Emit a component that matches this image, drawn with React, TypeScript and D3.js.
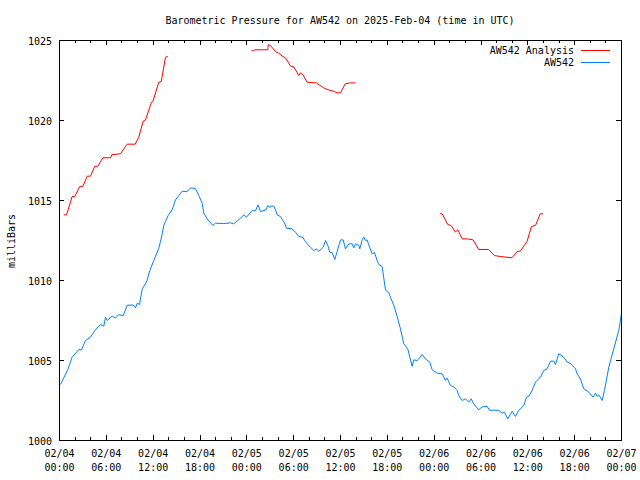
import React from "react";
import * as d3 from "d3";

const TITLE = "Barometric Pressure for AW542 on 2025-Feb-04 (time in UTC)";
const Y_LABEL = "milliBars";
const START = Date.UTC(2025, 1, 4, 0, 0);
const SPAN_HOURS = 72;
const Y_TICKS = [1000, 1005, 1010, 1015, 1020, 1025];

const seriesNames = ["AW542 Analysis", "AW542"];

// Analysis segments (hours since 2025-02-04 00:00 UTC, mbar)
const analysisA_hours = [0.55, 0.9, 1.62, 1.95, 2.6, 2.99, 3.55, 3.97, 4.52, 4.9, 5.55, 6.57, 6.7, 7.8, 8.67, 9.7, 10.16, 10.72, 11.02, 11.78, 11.95, 12.72, 13.03, 13.58, 13.87];
const analysisA_values = [1014.1, 1014.1, 1015.25, 1015.25, 1015.88, 1015.88, 1016.52, 1016.52, 1017.14, 1017.14, 1017.67, 1017.67, 1017.86, 1017.92, 1018.52, 1018.52, 1018.96, 1019.96, 1020.04, 1021.14, 1021.17, 1022.39, 1022.42, 1023.96, 1024.0];

const analysisB_hours = [24.6, 24.9, 25.0, 26.7, 26.73, 27.03, 27.67, 28.1, 28.53, 28.95, 29.6, 30.02, 30.66, 30.87, 31.2, 31.73, 32.9, 33.86, 34.29, 35.1, 35.56, 36.0, 36.6, 37.3, 37.9];
const analysisB_values = [1024.36, 1024.36, 1024.42, 1024.42, 1024.73, 1024.69, 1024.31, 1024.2, 1024.02, 1023.92, 1023.4, 1023.35, 1022.81, 1022.98, 1022.85, 1022.39, 1022.35, 1022.04, 1021.94, 1021.83, 1021.73, 1021.73, 1022.29, 1022.35, 1022.35];

const analysisC_hours = [48.72, 49.03, 49.74, 50.17, 50.73, 51.02, 51.6, 52.24, 52.99, 53.7, 54.98, 55.7, 56.48, 57.97, 58.6, 59.05, 59.9, 60.45, 60.99, 61.6, 61.96];
const analysisC_values = [1014.17, 1014.17, 1013.5, 1013.44, 1013.02, 1013.17, 1012.6, 1012.6, 1012.54, 1011.94, 1011.94, 1011.56, 1011.5, 1011.42, 1011.8, 1011.85, 1012.44, 1013.37, 1013.45, 1014.17, 1014.17];

// Observed station pressure
const obs_hours = [0.13, 1.07, 1.62, 2.5, 2.8, 3.33, 3.97, 4.6, 5.25, 5.68, 5.9, 6.1, 6.75, 7.17, 7.6, 8.15, 8.67, 9.44, 9.74, 9.95, 10.25, 10.6, 11.15, 11.57, 12.08, 12.72, 13.07, 13.36, 13.92, 14.43, 14.86, 15.28, 15.72, 16.35, 16.78, 17.4, 17.85, 18.28, 18.49, 18.92, 19.64, 19.98, 21.0, 21.9, 22.3, 22.97, 23.6, 23.96, 24.68, 25.1, 25.45, 25.75, 26.4, 26.7, 26.95, 27.03, 27.45, 27.67, 27.9, 28.3, 28.82, 29.08, 29.8, 30.23, 30.66, 31.2, 31.39, 31.73, 32.15, 32.58, 32.93, 33.2, 33.78, 34.08, 34.38, 34.62, 34.93, 35.27, 35.58, 35.78, 36.0, 36.34, 36.64, 37.06, 37.49, 37.7, 37.92, 38.35, 38.47, 38.78, 38.99, 39.2, 39.41, 39.62, 40.06, 40.35, 40.7, 40.9, 41.33, 41.76, 42.19, 42.83, 43.26, 43.68, 44.11, 44.62, 44.88, 45.18, 45.39, 45.82, 46.03, 46.46, 46.88, 47.44, 47.74, 48.38, 49.0, 49.45, 49.66, 50.09, 50.52, 50.94, 51.15, 51.58, 52.0, 52.44, 52.75, 53.07, 53.71, 54.14, 54.79, 55.12, 55.63, 56.28, 56.71, 57.0, 57.43, 57.99, 58.42, 58.84, 59.48, 59.83, 60.13, 60.55, 60.98, 61.62, 62.04, 62.47, 62.9, 63.33, 63.54, 63.96, 64.6, 65.04, 65.55, 66.1, 66.32, 66.74, 67.17, 67.81, 68.37, 68.67, 68.88, 69.1, 69.52, 69.82, 70.37, 71.01, 71.65, 72.0];
const obs_values = [1003.5, 1004.44, 1005.21, 1005.69, 1005.65, 1006.25, 1006.46, 1006.92, 1007.25, 1007.15, 1007.71, 1007.5, 1007.77, 1007.65, 1007.87, 1007.8, 1008.46, 1008.46, 1008.29, 1008.58, 1008.5, 1009.48, 1009.9, 1010.62, 1011.25, 1012.02, 1012.71, 1013.44, 1014.06, 1014.42, 1015.04, 1015.31, 1015.58, 1015.55, 1015.79, 1015.75, 1015.31, 1014.83, 1014.21, 1013.85, 1013.44, 1013.58, 1013.56, 1013.6, 1013.54, 1013.79, 1014.1, 1013.96, 1014.38, 1014.35, 1014.73, 1014.31, 1014.4, 1014.69, 1014.55, 1014.65, 1014.65, 1014.42, 1014.1, 1014.0, 1013.6, 1013.27, 1013.23, 1013.02, 1012.75, 1012.7, 1012.5, 1012.29, 1012.08, 1011.88, 1011.98, 1011.81, 1012.08, 1012.5, 1012.19, 1011.77, 1011.75, 1011.31, 1011.83, 1012.19, 1012.54, 1012.54, 1011.98, 1012.29, 1012.29, 1012.04, 1012.29, 1012.2, 1011.98, 1012.54, 1012.71, 1012.5, 1012.54, 1012.23, 1011.67, 1011.75, 1011.25, 1011.0, 1010.88, 1009.42, 1009.21, 1008.44, 1007.75, 1006.98, 1006.04, 1005.73, 1005.21, 1004.63, 1005.04, 1005.0, 1005.1, 1005.38, 1005.1, 1004.9, 1004.42, 1004.21, 1004.17, 1003.75, 1003.9, 1003.44, 1003.35, 1003.13, 1002.81, 1002.5, 1002.6, 1002.4, 1002.6, 1002.29, 1001.92, 1002.1, 1002.13, 1001.88, 1001.9, 1001.88, 1001.71, 1001.77, 1001.35, 1001.83, 1001.5, 1001.88, 1002.19, 1002.71, 1002.77, 1003.13, 1003.65, 1003.96, 1004.38, 1004.48, 1004.96, 1004.96, 1004.75, 1005.42, 1005.21, 1004.9, 1004.79, 1004.48, 1004.17, 1003.85, 1003.23, 1003.02, 1002.71, 1002.96, 1002.75, 1002.85, 1002.5, 1003.13, 1004.58, 1005.73, 1006.88, 1007.94];

const RED = "#ff0000";
const BLUE = "#0080ff";
const FONT = "'DejaVu Sans Mono', monospace";

const L = 59, R = 621, T = 40, B = 440;

function toPoints(hours: number[], values: number[]) {
  return hours.map((h, i) => ({ t: new Date(START + h * 3600e3), v: values[i] }));
}

export default function App() {
  const x = d3.scaleUtc()
    .domain([new Date(START), new Date(START + SPAN_HOURS * 3600e3)])
    .range([L + 0.5, R + 0.5]);
  const y = d3.scaleLinear().domain([1000, 1025]).range([B + 0.5, T + 0.5]);

  const line = d3.line<{ t: Date; v: number }>()
    .x((d) => x(d.t))
    .y((d) => y(d.v));

  const redSegments = [
    toPoints(analysisA_hours, analysisA_values),
    toPoints(analysisB_hours, analysisB_values),
    toPoints(analysisC_hours, analysisC_values),
  ];
  const blue = toPoints(obs_hours, obs_values);

  const majorX = d3.utcHour.every(6)!.range(new Date(START), new Date(START + SPAN_HOURS * 3600e3 + 1));
  const minorX = d3.utcHour.every(2)!.range(new Date(START), new Date(START + SPAN_HOURS * 3600e3 + 1))
    .filter((d) => d.getUTCHours() % 6 !== 0);
  const fmtDate = d3.utcFormat("%m/%d");
  const fmtTime = d3.utcFormat("%H:%M");

  const textStyle = { fontFamily: FONT, fontSize: 10, fill: "#000" } as const;

  return (
    <svg width={640} height={480} style={{ position: "absolute", left: 0, top: 0, background: "#fff" }}>
      <rect x={0} y={0} width={640} height={480} fill="#fff" />
      <text x={340} y={24} textAnchor="middle" style={textStyle}>{TITLE}</text>

      {/* ticks */}
      <g stroke="#000" strokeWidth={1} shapeRendering="crispEdges">
        {majorX.map((d, i) => (
          <g key={"mx" + i}>
            <line x1={x(d)} x2={x(d)} y1={B} y2={B - 5} />
            <line x1={x(d)} x2={x(d)} y1={T} y2={T + 5} />
          </g>
        ))}
        {minorX.map((d, i) => (
          <g key={"nx" + i}>
            <line x1={x(d)} x2={x(d)} y1={B} y2={B - 3} />
            <line x1={x(d)} x2={x(d)} y1={T} y2={T + 3} />
          </g>
        ))}
        {Y_TICKS.map((v) => (
          <g key={"y" + v}>
            <line x1={L} x2={L + 5} y1={y(v)} y2={y(v)} />
            <line x1={R} x2={R - 5} y1={y(v)} y2={y(v)} />
          </g>
        ))}
      </g>

      {/* tick labels */}
      {Y_TICKS.map((v) => (
        <text key={"yl" + v} x={52} y={y(v) + 4} textAnchor="end" style={textStyle}>{v}</text>
      ))}
      {majorX.map((d, i) => (
        <g key={"xl" + i}>
          <text x={x(d)} y={457} textAnchor="middle" style={textStyle}>{fmtDate(d)}</text>
          <text x={x(d)} y={471} textAnchor="middle" style={textStyle}>{fmtTime(d)}</text>
        </g>
      ))}

      <text transform={`translate(15,${241}) rotate(-90)`} textAnchor="middle" style={textStyle}>{Y_LABEL}</text>

      {/* data */}
      {redSegments.map((seg, i) => (
        <path key={"r" + i} d={line(seg) || ""} fill="none" stroke={RED} strokeWidth={1} />
      ))}
      <path d={line(blue) || ""} fill="none" stroke={BLUE} strokeWidth={1} />

      {/* legend */}
      <text x={574} y={54} textAnchor="end" style={textStyle}>{seriesNames[0]}</text>
      <line x1={581} x2={610} y1={50.5} y2={50.5} stroke={RED} strokeWidth={1} />
      <text x={574} y={66} textAnchor="end" style={textStyle}>{seriesNames[1]}</text>
      <line x1={581} x2={610} y1={62.5} y2={62.5} stroke={BLUE} strokeWidth={1} />

      {/* border */}
      <rect x={L + 0.5} y={T + 0.5} width={R - L} height={B - T} fill="none" stroke="#000" strokeWidth={1} shapeRendering="crispEdges" />
    </svg>
  );
}
